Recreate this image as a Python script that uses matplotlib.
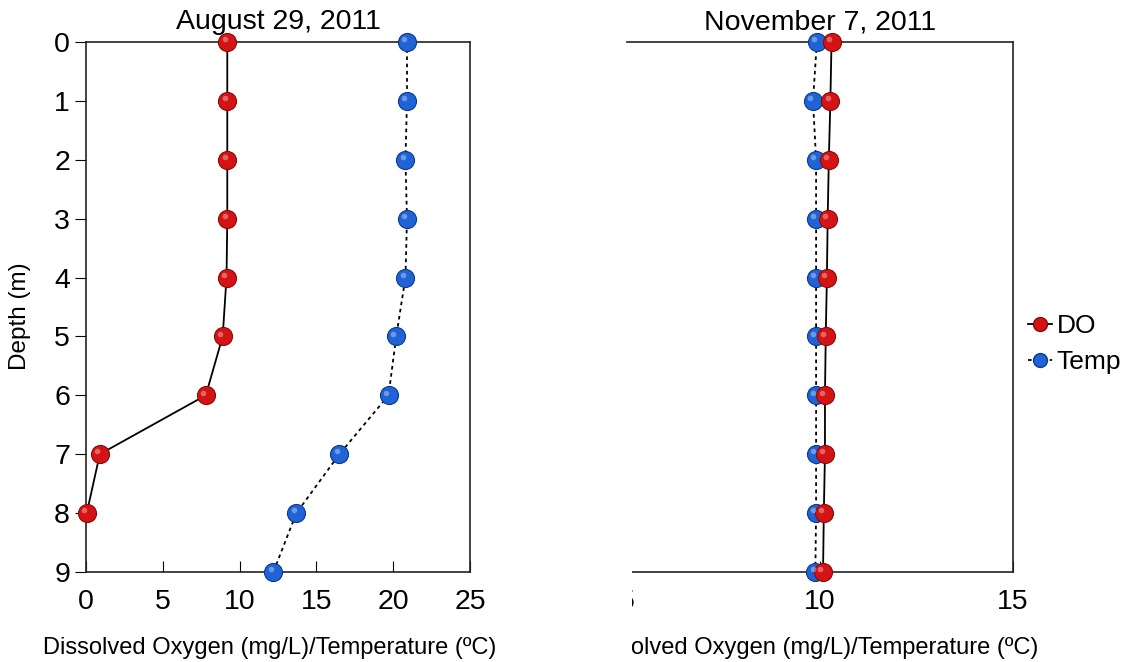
import matplotlib
matplotlib.use("Agg")
import matplotlib.pyplot as plt
import matplotlib.transforms as mtrans
from matplotlib.patches import Rectangle
from matplotlib.lines import Line2D

plt.rcParams['font.family'] = ['Liberation Sans', 'DejaVu Sans']

depth = [0, 1, 2, 3, 4, 5, 6, 7, 8, 9]

# August 29, 2011
aug_do_depth = [0, 1, 2, 3, 4, 5, 6, 7, 8]
aug_do = [9.2, 9.2, 9.2, 9.2, 9.15, 8.9, 7.8, 0.9, 0.05]
aug_temp = [20.9, 20.9, 20.8, 20.9, 20.8, 20.2, 19.7, 16.5, 13.7, 12.2]

# November 7, 2011
nov_do = [10.3, 10.27, 10.23, 10.2, 10.18, 10.15, 10.13, 10.13, 10.1, 10.08]
nov_temp = [9.92, 9.82, 9.9, 9.9, 9.9, 9.9, 9.9, 9.9, 9.9, 9.88]

titles = ["August 29, 2011", "November 7, 2011"]
xlabel = "Dissolved Oxygen (mg/L)/Temperature (ºC)"

red = "#d41414"
red_edge = "#8a0a0a"
blue = "#1f63d6"
blue_edge = "#0c3a8a"

fig = plt.figure(figsize=(11.27, 6.62), dpi=100)
ax1 = fig.add_axes([0.0763, 0.136, 0.3407, 0.8006])
ax2 = fig.add_axes([0.5563, 0.136, 0.3425, 0.8006])


def ball_series(ax, x, y, color, edge, ls):
    ax.plot(x, y, color='black', lw=1.3, ls=ls, zorder=2, clip_on=False)
    ax.plot(x, y, ls='none', marker='o', ms=13, mfc=color, mec=edge, mew=0.8,
            zorder=3, clip_on=False)
    # small highlight to mimic the shaded ball markers
    off = mtrans.offset_copy(ax.transData, fig=fig, x=-2, y=2, units='points')
    ax.plot(x, y, ls='none', marker='o', ms=4, mfc='white', mec='none',
            alpha=0.35, transform=off, zorder=4, clip_on=False)


ball_series(ax1, aug_do, aug_do_depth, red, red_edge, '-')
ball_series(ax1, aug_temp, depth, blue, blue_edge, (0, (2, 2)))
ball_series(ax2, nov_temp, depth, blue, blue_edge, (0, (2, 2)))
ball_series(ax2, nov_do, depth, red, red_edge, '-')

ax1.set_xlim(0, 25)
ax1.set_xticks([0, 5, 10, 15, 20, 25])
ax2.set_xlim(5, 15)
ax2.set_xticks([5, 10, 15])

for ax, t in zip([ax1, ax2], titles):
    ax.set_ylim(9, 0)
    ax.set_yticks(depth)
    ax.set_title(t, fontsize=20.5, pad=9)
    ax.set_xlabel(xlabel, fontsize=17)
    ax.xaxis.set_label_coords(0.479, -0.122)
    ax.tick_params(axis='x', direction='in', length=8, labelsize=20.5, pad=12)
    for s in ax.spines.values():
        s.set_linewidth(1.2)
        s.set_color('#222222')

ax1.tick_params(axis='y', direction='out', length=8, labelsize=20.5)
ax1.set_ylabel("Depth (m)", fontsize=17.5)
ax1.yaxis.set_label_coords(-0.143, 0.482)
ax2.tick_params(axis='y', left=False, labelleft=False)
ax2.spines['left'].set_visible(False)

# left edge of the right panel is cut off in the source image
fig.patches.append(Rectangle((0.47, 0.0), 632 / 1127 - 0.47, 0.9, transform=fig.transFigure,
                             facecolor='white', edgecolor='none', zorder=10))

handles = [
    Line2D([], [], color='black', lw=1.3, ls='-', marker='o', ms=10, mfc=red, mec=red_edge),
    Line2D([], [], color='black', lw=1.3, ls=(0, (2, 2)), marker='o', ms=10, mfc=blue, mec=blue_edge),
]
fig.legend(handles, ["DO", "Temp"], loc='center left', bbox_to_anchor=(0.912, 0.48),
           frameon=False, fontsize=19, handlelength=0.9, handletextpad=0.2,
           labelspacing=0.45, borderpad=0, borderaxespad=0)

fig.savefig("out.png", dpi=100)
